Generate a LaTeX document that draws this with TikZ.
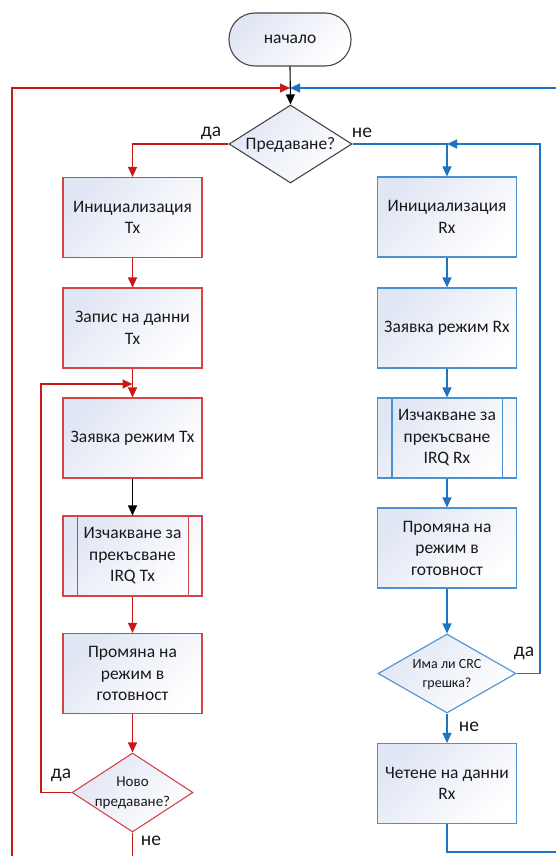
\documentclass[tikz,border=0pt]{standalone}
\usepackage{fontspec}
\setmainfont{Carlito}
\usetikzlibrary{shapes.geometric,arrows.meta}
\definecolor{rln}{RGB}{200,25,25}
\definecolor{rbox}{RGB}{212,70,70}
\definecolor{bln}{RGB}{30,115,195}
\definecolor{bbox}{RGB}{75,145,210}
\definecolor{gbox}{RGB}{70,70,70}
\definecolor{fillc}{RGB}{224,230,244}
\definecolor{txt}{RGB}{25,25,25}
\begin{document}
\begin{tikzpicture}[x=1pt,y=-1pt,
  shadefill/.style={top color=fillc,bottom color=white,shading angle=45},
  box/.style={rectangle,draw,line width=1.1pt,minimum width=139pt,minimum height=80pt,inner sep=0pt,align=center,font=\fontsize{17.5}{21.5}\selectfont,text=txt,shadefill},
  redbox/.style={box,draw=rbox},
  bluebox/.style={box,draw=bbox},
  dec/.style={diamond,draw,line width=1.1pt,inner sep=0pt,shadefill},
  dtext/.style={align=center,text=txt,inner sep=0pt},
  arr/.style={-{Triangle[length=10pt,width=9pt]},line width=1.1pt},
  ln/.style={line width=1.1pt},
  lbl/.style={font=\fontsize{19.5}{22}\selectfont,text=txt,inner sep=0pt}
]
\useasboundingbox (0,0) rectangle (556,856);

% start
\node[rectangle,draw=gbox,line width=1.1pt,rounded corners=26pt,minimum width=122pt,minimum height=53pt,inner sep=0pt,shadefill,font=\fontsize{17.5}{20}\selectfont,text=txt] (start) at (290,39.5) {начало};
\coordinate (jn) at (290,88);

% main decision
\node[dec,draw=gbox,minimum width=123pt,minimum height=78pt] (q1) at (290.5,144) {};
\node[dtext,font=\fontsize{17.5}{20}\selectfont] (q1t) at (290.5,145) {Предаване?};

% Tx branch
\node[redbox] (tx1) at (132.5,217.5) {Инициализация\\Tx};
\node[redbox] (tx2) at (132.5,328) {Запис на данни\\Tx};
\node[redbox] (tx3) at (132.5,438) {Заявка режим Tx};
\node[redbox] (tx4) at (132.5,556) {Изчакване за\\прекъсване\\IRQ Tx};
\node[redbox] (tx5) at (132.5,673.5) {Промяна на\\режим в\\готовност};
\node[dec,draw=rbox,minimum width=121pt,minimum height=79pt] (q2) at (132.5,792.5) {};
\node[dtext,font=\fontsize{15}{20}\selectfont] (q2t) at (132.5,793) {Ново\\предаване?};
\draw[rbox,ln] ([xshift=15pt]tx4.north west) -- ([xshift=15pt]tx4.south west);
\draw[rbox,ln] ([xshift=-14pt]tx4.north east) -- ([xshift=-14pt]tx4.south east);

% Rx branch
\node[bluebox] (rx1) at (447,217) {Инициализация\\Rx};
\node[bluebox] (rx2) at (447,328) {Заявка режим Rx};
\node[bluebox] (rx3) at (447,438) {Изчакване за\\прекъсване\\IRQ Rx};
\node[bluebox] (rx4) at (447,548) {Промяна на\\режим в\\готовност};
\node[dec,draw=bbox,minimum width=138pt,minimum height=79pt] (q3) at (447,673.5) {};
\node[dtext,font=\fontsize{14}{19}\selectfont] (q3t) at (447,675) {Има ли CRC\\грешка?};
\node[bluebox] (rx5) at (447,783.5) {Четене на данни\\Rx};
\draw[bbox,ln] ([xshift=15pt]rx3.north west) -- ([xshift=15pt]rx3.south west);
\draw[bbox,ln] ([xshift=-15pt]rx3.north east) -- ([xshift=-15pt]rx3.south east);

% labels
\node[lbl] (lda1) at (211,133) {да};
\node[lbl] (lne1) at (362,133) {не};
\node[lbl] (lda2) at (61,775) {да};
\node[lbl] (lne2) at (151,841) {не};
\node[lbl] (lda3) at (524,653) {да};
\node[lbl] (lne3) at (469,727) {не};

% coordinates
\coordinate (rbot) at (12,856);
\coordinate (rtop) at (12,88);
\coordinate (lp) at (41,384);
\coordinate (txend) at (132.5,856);
\coordinate (bl) at (540,144);
\coordinate (bjn) at (447,144);
\coordinate (bright) at (556,88);
\coordinate (bbend) at (447,852);
\coordinate (bbr) at (556,852);

% black connectors
\draw[arr,black] (start.south) -- (q1.north);
\draw[arr,black] (tx3.south) -- (tx4.north);

% red connectors
\draw[arr,rln] (q1.west) -| (tx1.north);
\draw[arr,rln] (tx1.south) -- (tx2.north);
\draw[arr,rln] (tx2.south) -- (tx3.north);
\draw[arr,rln] (tx4.south) -- (tx5.north);
\draw[arr,rln] (tx5.south) -- (q2.north);
\draw[arr,rln] (q2.west) -| (lp) -- (tx3.north |- lp);
\draw[ln,rln] (q2.south) -- (txend);
\draw[arr,rln] (rbot) -- (rtop) -- (jn);

% blue connectors
\draw[arr,bln] (bright) -- (jn);
\draw[arr,bln] (q1.east) -| (rx1.north);
\draw[arr,bln] (rx1.south) -- (rx2.north);
\draw[arr,bln] (rx2.south) -- (rx3.north);
\draw[arr,bln] (rx3.south) -- (rx4.north);
\draw[arr,bln] (rx4.south) -- (q3.north);
\draw[arr,bln] (q3.south) -- (rx5.north);
\draw[arr,bln] (q3.east) -| (bl) -- (bjn);
\draw[ln,bln] (rx5.south) -- (bbend) -- (bbr);
\end{tikzpicture}
\end{document}
